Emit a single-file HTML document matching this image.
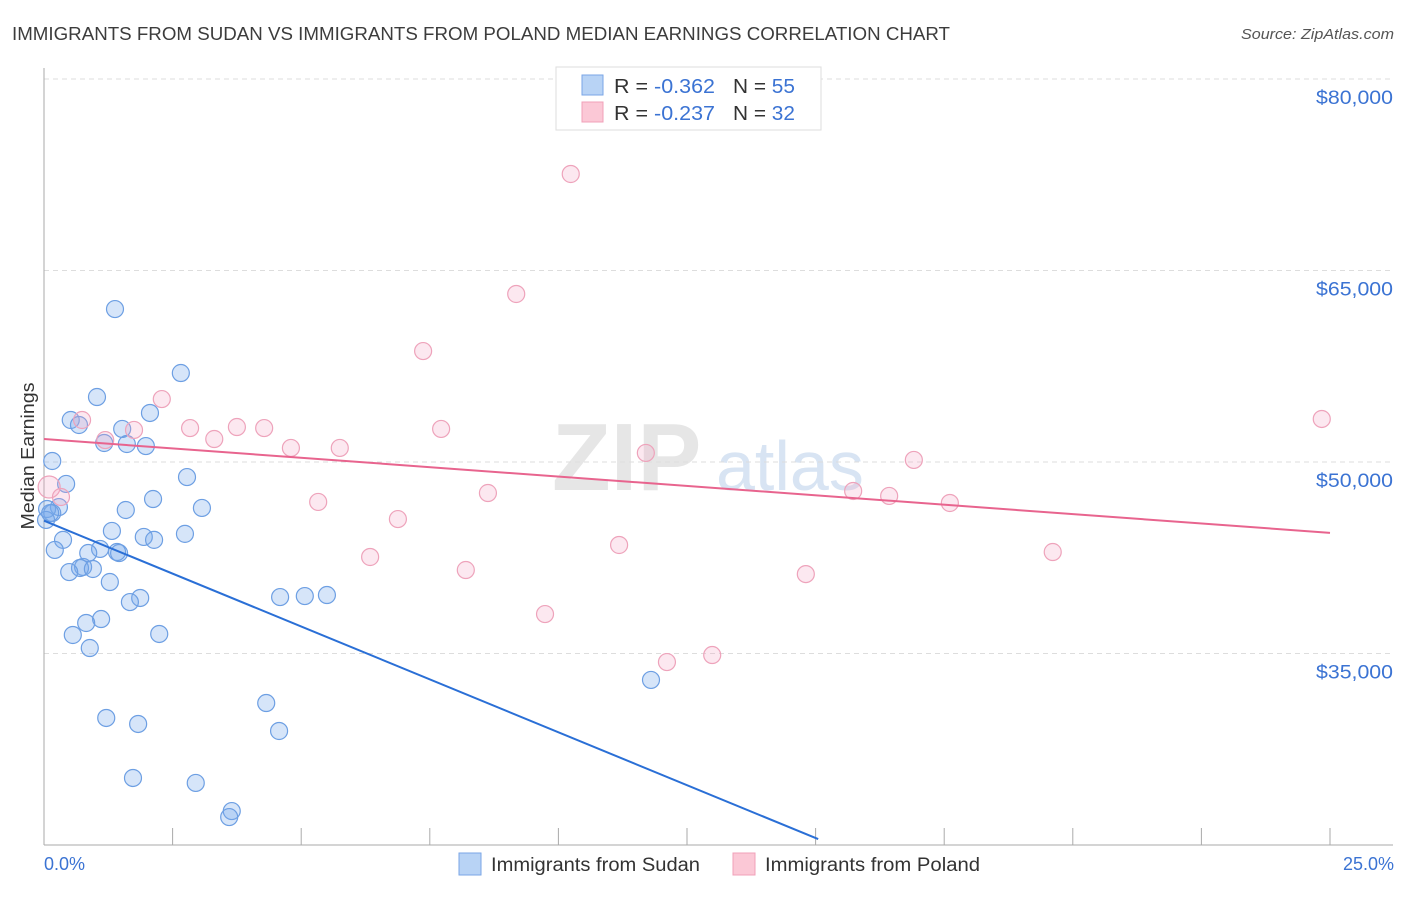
<!DOCTYPE html>
<html><head><meta charset="utf-8"><style>
body{margin:0;background:#fff;font-family:"Liberation Sans",sans-serif}
svg text{font-family:"Liberation Sans",sans-serif}
</style></head><body>
<svg id="chart" width="1406" height="892" xmlns="http://www.w3.org/2000/svg">
<text x="12" y="40" font-size="18" fill="#3c3c3c" textLength="938" lengthAdjust="spacingAndGlyphs">IMMIGRANTS FROM SUDAN VS IMMIGRANTS FROM POLAND MEDIAN EARNINGS CORRELATION CHART</text>
<text x="1241" y="39" font-size="15" fill="#555" font-style="italic" textLength="153" lengthAdjust="spacingAndGlyphs">Source: ZipAtlas.com</text>
<g>
<text x="552" y="490" font-size="96" fill="#e6e6e6" font-family="Liberation Serif" font-weight="bold">ZIP</text>
<text x="716" y="490" font-size="70" fill="#d8e4f3">atlas</text>
</g>
<g id="grid"></g>
<g id="axes"></g>
<g id="pts"></g>
<g id="lines"></g>
<text transform="translate(34,456) rotate(-90)" font-size="18" fill="#333" text-anchor="middle" textLength="147" lengthAdjust="spacingAndGlyphs">Median Earnings</text>
<text x="44" y="870" font-size="18" fill="#3b73d3">0.0%</text>
<text x="1394" y="870" font-size="18" fill="#3b73d3" text-anchor="end">25.0%</text>
<g>
<rect x="556" y="67" width="265" height="63" fill="#fff" stroke="#ddd"/>
<rect x="582" y="75" width="21" height="20" fill="#b8d3f5" stroke="#7aa6e6"/>
<rect x="582" y="102" width="21" height="20" fill="#fbc8d6" stroke="#f0a0b8"/>
<text x="614" y="93" font-size="20" fill="#333" textLength="101" lengthAdjust="spacingAndGlyphs">R = <tspan fill="#3b73d3">-0.362</tspan></text>
<text x="733" y="93" font-size="20" fill="#333" textLength="62" lengthAdjust="spacingAndGlyphs">N = <tspan fill="#3b73d3">55</tspan></text>
<text x="614" y="120" font-size="20" fill="#333" textLength="101" lengthAdjust="spacingAndGlyphs">R = <tspan fill="#3b73d3">-0.237</tspan></text>
<text x="733" y="120" font-size="20" fill="#333" textLength="62" lengthAdjust="spacingAndGlyphs">N = <tspan fill="#3b73d3">32</tspan></text>
</g>
<g>
<rect x="459" y="853" width="22" height="22" fill="#b8d3f5" stroke="#7aa6e6"/>
<text x="491" y="871" font-size="19" fill="#333" textLength="209" lengthAdjust="spacingAndGlyphs">Immigrants from Sudan</text>
</g>
<g>
<rect x="733" y="853" width="22" height="22" fill="#fbc8d6" stroke="#f0a0b8"/>
<text x="765" y="871" font-size="19" fill="#333" textLength="215" lengthAdjust="spacingAndGlyphs">Immigrants from Poland</text>
</g>
</svg>
<script>
const yTicks=[35000,50000,65000,80000];
const yTickLabels=["$35,000","$50,000","$65,000","$80,000"];
const xTicks=[2.5,5,7.5,10,12.5,15,17.5,20,22.5,25];
const sudanX=[1.38,2.66,1.03,2.06,0.52,0.68,1.52,1.17,1.61,1.98,0.16,2.78,0.43,2.12,0.29,0.06,0.16,1.59,3.07,1.32,1.94,2.14,2.74,0.37,0.21,1.09,0.86,1.46,1.42,0.76,0.70,0.95,0.49,1.28,1.87,1.67,1.11,0.82,0.56,2.24,0.89,4.59,5.07,5.50,4.32,4.57,1.21,1.83,11.80,1.73,2.95,3.65,3.60,0.04,0.12];
const sudanY=[61980,56970,55090,53840,53290,52900,52590,51490,51410,51250,50080,48820,48280,47100,46470,46320,46000,46240,46400,44600,44130,43900,44370,43900,43110,43190,42870,42870,42950,41780,41700,41620,41380,40600,39350,39030,37700,37390,36450,36530,35430,39420,39500,39580,31120,28930,29950,29480,32930,25250,24860,22660,22190,45460,46000];
const polandX=[10.24,9.18,7.37,2.29,0.74,2.84,1.19,3.75,4.28,1.75,3.31,7.72,4.80,5.75,11.70,16.91,24.84,0.10,0.33,8.63,15.73,16.43,17.61,5.33,6.88,6.34,8.20,11.18,19.61,14.81,9.74,12.11,12.99];
const polandY=[72560,63160,58690,54930,53290,52660,51720,52740,52660,52510,51800,52590,51100,51100,50710,50160,53370,48040,47260,47570,47730,47340,46790,46870,45530,42560,41540,43500,42950,41220,38090,34330,34880];
const sudanTrend=[45400,-1657];
const polandTrend=[51800,-294];
const X=v=>44+v/25*1286;
const Y=v=>79+(80000-v)/15000*191.5;
const NS="http://www.w3.org/2000/svg";
function mk(parent,tag,attrs){const e=document.createElementNS(NS,tag);for(const k in attrs)e.setAttribute(k,attrs[k]);document.getElementById(parent).appendChild(e);return e;}
yTicks.forEach((t,i)=>{
 const l=mk('grid','line',{x1:44,x2:1393,y1:Y(t),y2:Y(t),stroke:'#ddd','stroke-dasharray':'5,4'});
 
 
 const tx=mk('grid','text',{x:1316,y:Y(t)+25,'font-size':19,fill:'#3b73d3',textLength:77,lengthAdjust:'spacingAndGlyphs'});
 tx.textContent=yTickLabels[i];
 
 
});
const ax=mk('axes','line',{x1:44,x2:44,y1:68,y2:845,stroke:'#aaa'});


const bx=mk('axes','line',{x1:44,x2:1393,y1:845,y2:845,stroke:'#aaa'});


xTicks.forEach(t=>{
 const l=mk('axes','line',{x1:X(t),x2:X(t),y1:828,y2:845,stroke:'#aaa'});
 
 
});
sudanX.forEach((x,i)=>{
 const c=mk('pts','circle',{cx:X(x),cy:Y(sudanY[i]),r:8.5,fill:'rgba(120,170,235,0.3)',stroke:'#6d9fe3','stroke-width':1.2});
 
 
});
polandX.forEach((x,i)=>{
 const c=mk('pts','circle',{cx:X(x),cy:Y(polandY[i]),r:i==17?11:8.5,fill:'rgba(245,165,195,0.25)',stroke:'#eea3bb','stroke-width':1.2});
 
 
});
const sEnd=15.05;
const sl=mk('lines','line',{x1:X(0),y1:Y(sudanTrend[0]),x2:X(sEnd),y2:Y(sudanTrend[0]+sudanTrend[1]*sEnd),stroke:'#2a6fd6','stroke-width':2});


const pl=mk('lines','line',{x1:X(0),y1:Y(polandTrend[0]),x2:X(25),y2:Y(polandTrend[0]+polandTrend[1]*25),stroke:'#e8648e','stroke-width':2});


</script>
</body></html>
